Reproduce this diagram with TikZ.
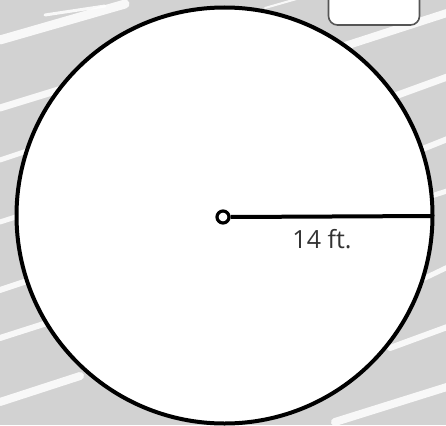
\documentclass[tikz,border=0pt]{standalone}
\usepackage{fontspec}
\setmainfont{Open Sans}
\definecolor{bggray}{HTML}{D2D2D2}
\definecolor{txtgray}{HTML}{333333}
\definecolor{boxgray}{HTML}{555555}
\tikzset{
  streak/.style={white, line cap=round, opacity=0.85},
  outline/.style={draw=black, line width=4pt},
}
\begin{document}
\begin{tikzpicture}[x=1pt,y=-1pt]
\useasboundingbox (0,0) rectangle (446,425);
\fill[bggray] (0,0) rectangle (446,425);
% background streaks
\draw[streak, line width=9pt] (0,40) -- (125,4);
\draw[streak, line width=3pt] (45,15) -- (105,6);
\draw[streak, line width=2pt] (265,8) -- (300,-2);
\draw[streak, line width=7pt] (0,108) -- (65,88);
\draw[streak, line width=5pt] (0,160) -- (30,150);
\draw[streak, line width=5pt] (0,222) -- (25,214);
\draw[streak, line width=6pt] (0,290) -- (30,280);
\draw[streak, line width=6pt] (0,338) -- (50,322);
\draw[streak, line width=8pt] (0,402) -- (80,376);
\draw[streak, line width=8pt] (345,46) -- (450,12);
\draw[streak, line width=7pt] (395,96) -- (450,76);
\draw[streak, line width=6pt] (420,150) -- (450,138);
\draw[streak, line width=5pt] (425,198) -- (450,190);
\draw[streak, line width=5pt] (425,278) -- (450,266);
\draw[streak, line width=6pt] (390,348) -- (450,326);
\draw[streak, line width=8pt] (335,422) -- (450,386);
% rounded box at top right
\node[draw=boxgray, fill=white, line width=1.6pt, rounded corners=9pt,
      minimum width=91pt, minimum height=40pt, inner sep=0pt] (box) at (374,5) {};
% circle
\node[circle, outline, fill=white, minimum size=416pt, inner sep=0pt] (circ) at (224.5,215.5) {};
% centre point and radius
\coordinate (rend) at (432.5,216);
\node[circle, draw=black, line width=3.2pt, fill=white, minimum size=12pt, inner sep=0pt] (ctr) at (223,217) {};
\draw[black, line width=4pt] (ctr.east) -- (rend);
\node[text=txtgray, font=\fontsize{25}{30}\selectfont, inner sep=0pt] (lbl) at (322,239) {14 ft.};
\end{tikzpicture}
\end{document}
